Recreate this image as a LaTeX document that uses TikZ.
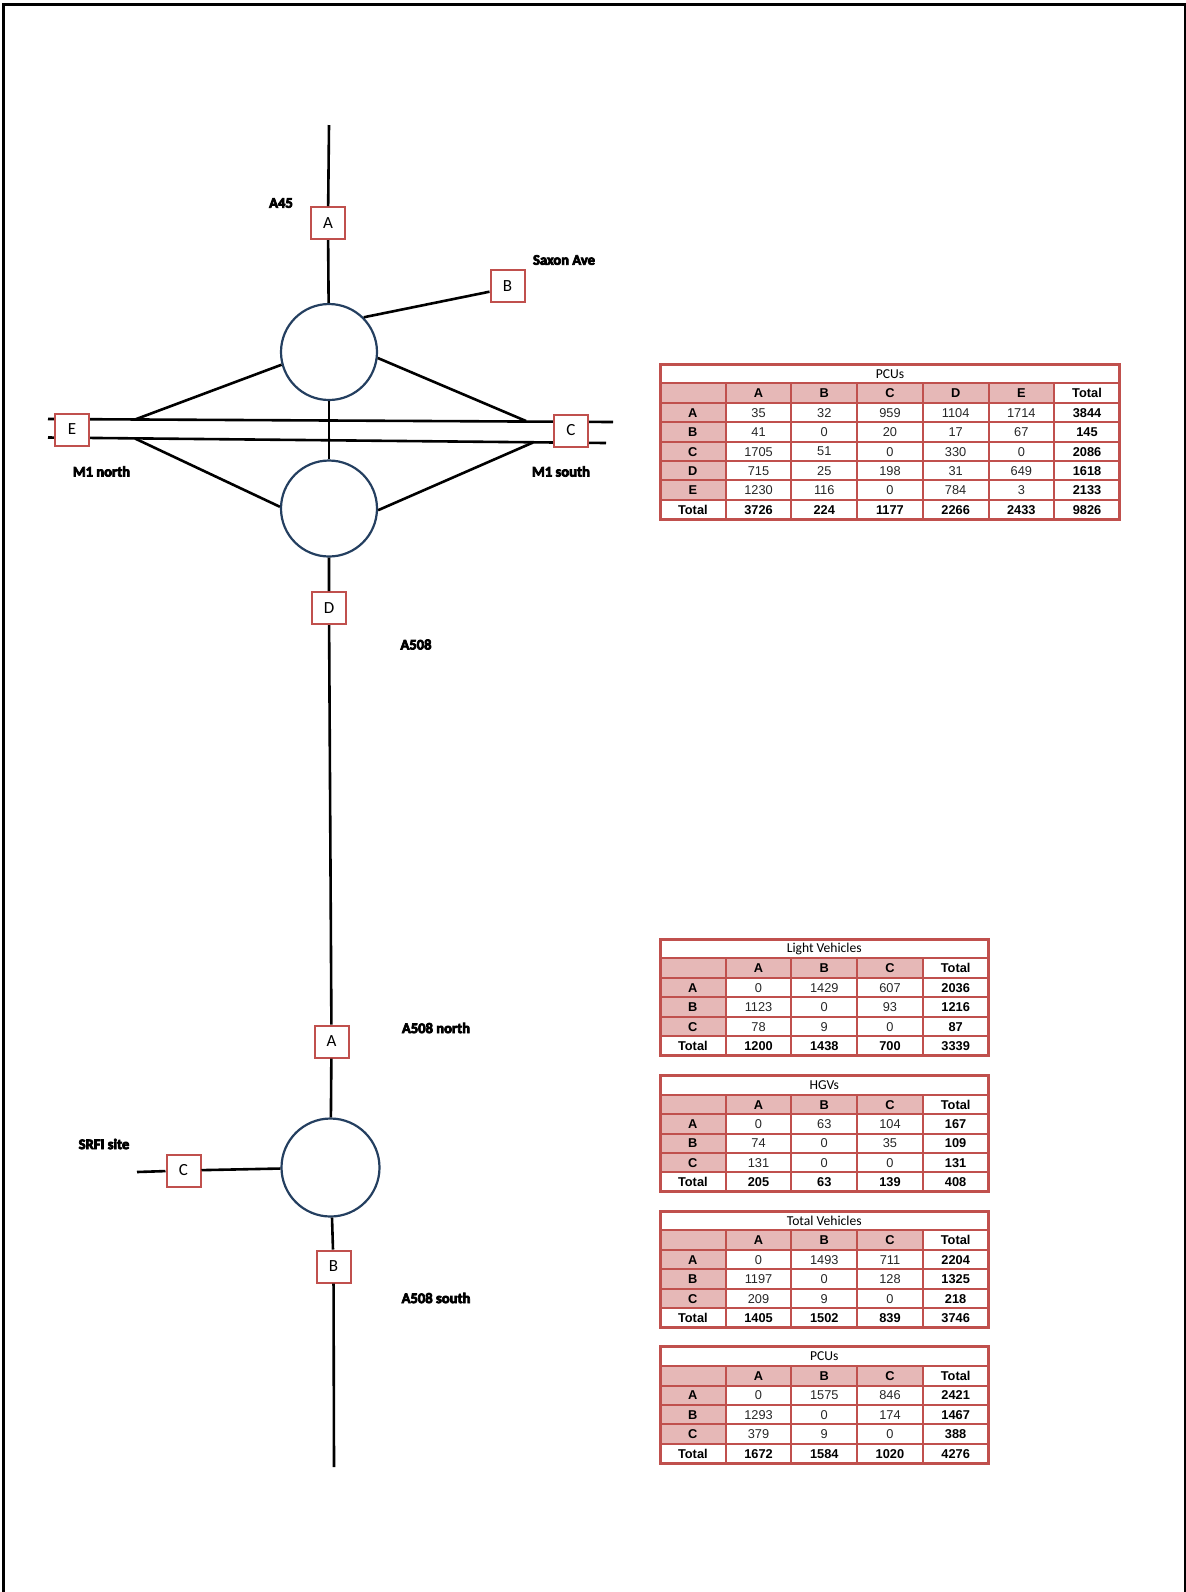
\documentclass[tikz,border=0pt]{standalone}
\usepackage{fontspec}
\setmainfont{Carlito}
\newfontfamily\cellfont{Liberation Sans}
\newfontfamily\roadfont{Carlito}[BoldFeatures={FakeBold=5}]
\newfontfamily\titlefont{Carlito}
\definecolor{tred}{HTML}{C0504D}
\definecolor{tpink}{HTML}{E6B8B7}
\definecolor{rnavy}{HTML}{243F60}
\tikzset{
  road/.style={line width=1.3pt, black},
  rbt/.style={circle, draw=rnavy, line width=1.1pt, fill=white, inner sep=0pt, minimum size=48pt},
  armbox/.style={draw=tred, line width=1pt, fill=white, minimum width=17pt, minimum height=16pt, inner sep=0pt, font=\fontsize{8.5}{9}\selectfont},
  roadlabel/.style={font=\roadfont\bfseries\fontsize{7.3}{8}\selectfont, inner sep=0pt},
  cellnode/.style={font=\cellfont\fontsize{6.4}{7}\selectfont, inner sep=0pt},
  titlenode/.style={font=\titlefont\fontsize{6.8}{8}\selectfont, inner sep=0pt},
  gridline/.style={draw=tred, line width=1pt},
  outerline/.style={draw=tred, line width=1.5pt},
}
% #1 name, #2 x, #3 y, #4 ncols, #5 nrows, #6 title, #7 rows
\newcommand\otable[7]{%
\begin{scope}[shift={(#2,#3)}]
  \pgfmathsetmacro\tw{#4*65.7}
  \pgfmathtruncatemacro\ncm{#4-1}
  \foreach \rowdata [count=\i] in {#7} {
    \foreach \cell [count=\j] in \rowdata {
      \pgfmathtruncatemacro\pink{((\i==1)&&(\j<#4))||((\j==1)&&(\i<#5)) ? 1 : 0}
      \ifnum\pink=1
        \fill[tpink] ({(\j-1)*65.7},{\i*19.4}) rectangle ({\j*65.7},{(\i+1)*19.4});
      \fi
    }
  }
  \foreach \k in {1,...,#5} \draw[gridline] (0,{\k*19.4}) -- (\tw,{\k*19.4});
  \foreach \k in {1,...,\ncm} \draw[gridline] ({\k*65.7},19.4) -- ({\k*65.7},{(#5+1)*19.4});
  \draw[outerline] (0,0) rectangle (\tw,{(#5+1)*19.4});
  \node[titlenode] (#1-title) at ({\tw/2},9.9) {#6};
  \foreach \rowdata [count=\i] in {#7} {
    \foreach \cell [count=\j] in \rowdata {
      \pgfmathtruncatemacro\bld{((\i==1)||(\j==1)||(\i==#5)||(\j==#4)) ? 1 : 0}
      \node[cellnode] (#1-\i-\j) at ({(\j-0.5)*65.7},{(\i+0.5)*19.4+0.3})
        {\ifnum\bld=1 \bfseries\color{black}\else\color{black!85}\fi\cell};
    }
  }
\end{scope}}

\begin{document}
\begin{tikzpicture}[x=0.5pt,y=-0.5pt]
\useasboundingbox (0,0) rectangle (1186,1592);
% page frame
\draw[line width=1.5pt, line join=miter] (3.3,1592) -- (3.3,4.5) -- (1185,4.5) -- (1185,1592);

% motorway carriageways
\coordinate (m1ul) at (48,419);
\coordinate (m1ur) at (613,422);
\coordinate (m1ll) at (48,437.5);
\coordinate (m1lr) at (606,443);
\draw[road] (m1ul) -- (m1ur);
\draw[road] (m1ll) -- (m1lr);
\coordinate (slipNW) at (135,419.5);
\coordinate (slipNE) at (526,421);
\coordinate (slipSW) at (135,438.5);
\coordinate (slipSE) at (533,442.5);
\coordinate (a45end) at (329,125);
\coordinate (srfiend) at (137,1172);
\coordinate (a508end) at (334,1467);

% roundabouts and arms
\node[rbt] (R1) at (329,352) {};
\node[rbt] (R2) at (329,508.5) {};
\node[rbt, minimum size=49pt] (R3) at (330.5,1167.5) {};
\node[armbox] (A1) at (328,223) {A};
\node[armbox] (B1) at (507.5,286) {B};
\node[armbox] (E1) at (72,429.5) {E};
\node[armbox] (C1) at (571,430.5) {C};
\node[armbox] (D1) at (329,608) {D};
\node[armbox] (A2) at (331.5,1041.5) {A};
\node[armbox] (B2) at (333.5,1266.5) {B};
\node[armbox] (C2) at (183.5,1170.5) {C};

% connectors
\draw[road] (a45end) -- (A1) -- (R1);
\draw[road] (R1.45) -- ([yshift=-2.85pt]B1.west);
\draw[road] (R1.195) -- (slipNW);
\draw[road] (R1.-7) -- (slipNE);
\draw[road] (R2.178) -- (slipSW);
\draw[road] (R2.-2) -- (slipSE);
\draw[road] (R1) -- (R2);
\draw[road] (R2) -- (D1) -- (A2) -- (R3);
\draw[road] (R3) -- (B2) -- (a508end);
\draw[road] (srfiend) -- (C2) -- (R3);

% road names
\node[roadlabel] (lA45) at (281,203) {A45};
\node[roadlabel] (lSaxon) at (564,260) {Saxon Ave};
\node[roadlabel] (lM1n) at (101.5,471.5) {M1 north};
\node[roadlabel] (lM1s) at (561,471.5) {M1 south};
\node[roadlabel] (lA508) at (416,644.5) {A508};
\node[roadlabel] (lA508n) at (436,1028) {A508 north};
\node[roadlabel] (lA508s) at (436,1298) {A508 south};
\node[roadlabel] (lSRFI) at (104,1144) {SRFI site};

% tables
\otable{tpcu}{660}{364}{7}{7}{PCUs}{%
{{},A,B,C,D,E,Total},
{A,35,32,959,1104,1714,3844},
{B,41,0,20,17,67,145},
{C,1705,51,0,330,0,2086},
{D,715,25,198,31,649,1618},
{E,1230,116,0,784,3,2133},
{Total,3726,224,1177,2266,2433,9826}}
\otable{tlv}{660}{939}{5}{5}{Light Vehicles}{%
{{},A,B,C,Total},
{A,0,1429,607,2036},
{B,1123,0,93,1216},
{C,78,9,0,87},
{Total,1200,1438,700,3339}}
\otable{thgv}{660}{1075.3}{5}{5}{HGVs}{%
{{},A,B,C,Total},
{A,0,63,104,167},
{B,74,0,35,109},
{C,131,0,0,131},
{Total,205,63,139,408}}
\otable{ttv}{660}{1211}{5}{5}{Total Vehicles}{%
{{},A,B,C,Total},
{A,0,1493,711,2204},
{B,1197,0,128,1325},
{C,209,9,0,218},
{Total,1405,1502,839,3746}}
\otable{tbpcu}{660}{1346.7}{5}{5}{PCUs}{%
{{},A,B,C,Total},
{A,0,1575,846,2421},
{B,1293,0,174,1467},
{C,379,9,0,388},
{Total,1672,1584,1020,4276}}
\end{tikzpicture}
\end{document}
